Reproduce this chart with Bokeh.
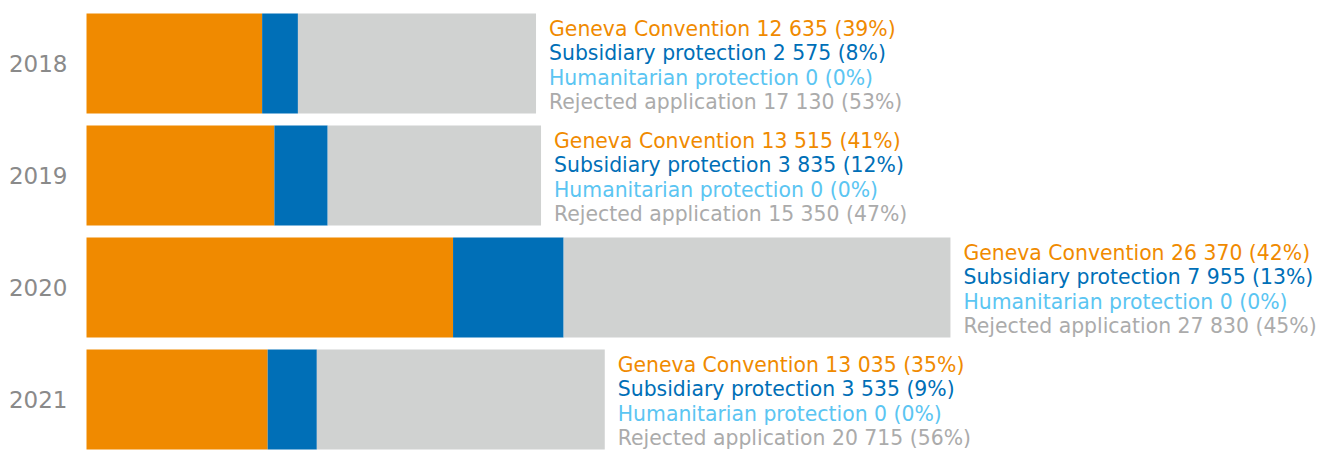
from bokeh.plotting import figure
from bokeh.models import ColumnDataSource, Range1d, FixedTicker
from bokeh.core.properties import value
from bokeh.embed import file_html
from bokeh.resources import INLINE

years = ["2018", "2019", "2020", "2021"]
geneva = [12635, 13515, 26370, 13035]
subsidiary = [2575, 3835, 7955, 3535]
humanitarian = [0, 0, 0, 0]
rejected = [17130, 15350, 27830, 20715]

series_names = ["Geneva Convention", "Subsidiary protection", "Humanitarian protection", "Rejected application"]
bar_colors = ["#F08A00", "#006FB7", "#5BC5F2", "#D0D2D1"]
text_colors = ["#F08A00", "#006FB7", "#5BC5F2", "#ABABAB"]

FONT = "DejaVu Sans"

ypos = list(range(len(years)))
src = ColumnDataSource(dict(y=ypos, geneva=geneva, subsidiary=subsidiary,
                            humanitarian=humanitarian, rejected=rejected))

# frame 1241 x 450 px; one year step = 112 px, first bar centred 63 px from top
p = figure(width=1319, height=450, output_backend="svg", toolbar_location=None,
           x_range=Range1d(-576, 88705), y_range=Range1d(387 / 112, -63 / 112),
           x_axis_location=None, min_border=0, min_border_left=78)
p.outline_line_color = None
p.grid.visible = False
p.background_fill_color = "white"

p.hbar_stack(["geneva", "subsidiary", "humanitarian", "rejected"], y="y", height=100 / 112,
             color=bar_colors, source=src, line_color=None)

ax = p.yaxis[0]
ax.ticker = FixedTicker(ticks=ypos)
ax.major_label_overrides = {i: y for i, y in enumerate(years)}
ax.axis_line_color = None
ax.major_tick_line_color = None
ax.minor_tick_line_color = None
ax.major_tick_out = 0
ax.major_label_standoff = 11
ax.major_label_text_font = FONT
ax.major_label_text_font_size = "23px"
ax.major_label_text_color = "#8A8A8A"

def fmt(n):
    return f"{n:,}".replace(",", " ")

tx, ty, tt, tc, toff = [], [], [], [], []
for i in range(len(years)):
    vals = [geneva[i], subsidiary[i], humanitarian[i], rejected[i]]
    total = sum(vals)
    for k, (name, v) in enumerate(zip(series_names, vals)):
        tx.append(total)
        ty.append(i)
        tt.append(f"{name} {fmt(v)} ({round(100 * v / total)}%)")
        tc.append(text_colors[k])
        toff.append(-35 + 24.5 * k)

tsrc = ColumnDataSource(dict(x=tx, y=ty, text=tt, color=tc, yoff=toff))
p.text(x="x", y="y", text="text", text_color="color", y_offset="yoff", x_offset=13,
       source=tsrc, text_font=value(FONT), text_font_size="20.4px",
       text_baseline="alphabetic", text_align="left")

open("out.html", "w").write(file_html(p, INLINE))
